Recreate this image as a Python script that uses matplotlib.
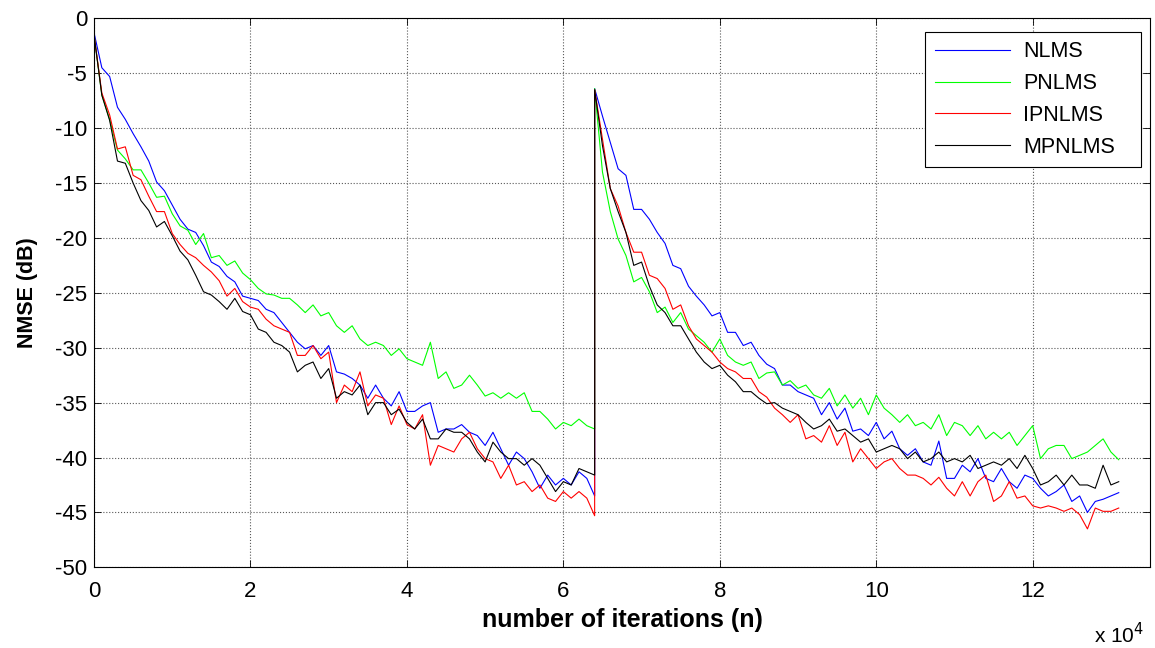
import numpy as np
import matplotlib
matplotlib.use('Agg')
import matplotlib.pyplot as plt

plt.rcParams['font.family'] = ['Liberation Sans', 'DejaVu Sans']
plt.rcParams['axes.unicode_minus'] = False

# iterations: first run up to the echo path change, then the second run
n_change = 64000
n_end = 131000

# NMSE (dB), every ~1000 iterations
nlms_1 = [-1.3, -4.5, -5.3, -8.1, -9.2, -10.5, -11.7, -13.0, -14.9, -15.7,
          -17.0, -18.3, -19.2, -19.5, -20.7, -22.2, -22.6, -23.5, -24.0, -25.3,
          -25.5, -25.7, -26.5, -26.8, -27.7, -28.6, -29.5, -30.1, -29.8, -30.7,
          -29.8, -32.2, -32.4, -32.8, -33.4, -34.6, -33.4, -34.6, -35.3, -34.0,
          -35.8, -35.8, -35.3, -35.0, -37.7, -37.4, -37.4, -37.0, -37.7, -38.0,
          -38.9, -37.7, -39.2, -40.7, -39.5, -40.1, -41.3, -42.8, -41.6, -42.5,
          -41.9, -42.5, -41.3, -41.9, -43.5]
pnlms_1 = [-1.5, -7.0, -9.2, -12.0, -12.8, -13.8, -13.8, -15.0, -16.3, -16.2,
           -17.8, -18.9, -19.3, -20.6, -19.6, -21.8, -21.6, -22.5, -22.1, -23.2,
           -23.8, -24.6, -25.1, -25.2, -25.5, -25.5, -26.1, -26.8, -26.1, -27.1,
           -26.8, -28.0, -28.6, -28.0, -29.2, -29.8, -29.5, -29.8, -30.7, -30.1,
           -31.0, -31.3, -31.6, -29.5, -32.8, -32.2, -33.7, -33.4, -32.5, -33.4,
           -34.4, -34.1, -34.6, -34.1, -34.6, -34.1, -35.8, -35.8, -36.5, -37.4,
           -36.8, -37.1, -36.5, -37.1, -37.4]
ipnlms_1 = [-1.5, -6.8, -8.8, -11.9, -11.7, -14.3, -14.7, -16.2, -17.6, -17.6,
            -19.6, -20.6, -21.4, -21.8, -22.5, -23.1, -23.9, -25.3, -24.6, -25.8,
            -26.3, -26.5, -27.4, -28.0, -28.3, -28.6, -30.7, -30.7, -29.8, -31.0,
            -30.4, -35.0, -33.4, -34.0, -32.2, -35.3, -34.3, -34.6, -37.0, -35.3,
            -37.0, -37.4, -36.1, -40.7, -38.9, -39.2, -39.5, -38.3, -37.7, -39.2,
            -40.1, -40.4, -41.9, -40.7, -42.5, -42.2, -43.1, -42.5, -43.7, -44.0,
            -43.1, -43.7, -43.1, -43.7, -45.3]
mpnlms_1 = [-1.5, -7.0, -9.3, -13.0, -13.2, -15.0, -16.6, -17.5, -19.0, -18.5,
            -19.8, -21.2, -22.0, -23.4, -24.9, -25.2, -25.8, -26.5, -25.5, -26.7,
            -27.0, -28.3, -28.6, -29.5, -29.8, -30.4, -32.2, -31.6, -31.3, -32.8,
            -31.9, -34.6, -34.0, -34.3, -33.4, -36.1, -35.0, -35.0, -36.1, -35.6,
            -36.8, -37.4, -36.5, -38.3, -38.3, -37.4, -37.7, -37.7, -38.3, -39.5,
            -40.4, -38.6, -39.5, -40.1, -40.1, -40.7, -40.1, -40.7, -41.9, -43.1,
            -42.2, -42.5, -41.0, -41.3, -41.6]

nlms_2 = [-6.4, -8.9, -11.3, -13.7, -14.3, -17.4, -17.4, -18.3, -19.5, -20.5,
          -22.5, -22.8, -24.4, -25.3, -26.1, -27.1, -26.8, -28.6, -28.6, -29.8,
          -29.5, -30.7, -31.5, -31.9, -33.4, -33.4, -34.0, -34.3, -34.6, -36.1,
          -35.0, -36.5, -35.5, -37.6, -37.4, -38.0, -36.8, -38.3, -37.6, -39.2,
          -39.8, -39.2, -40.4, -40.7, -38.5, -41.9, -41.9, -40.7, -41.3, -40.1,
          -41.9, -42.2, -41.0, -42.2, -42.8, -41.6, -41.9, -42.8, -43.5, -43.1,
          -42.5, -44.0, -43.5, -45.0, -44.0, -43.8, -43.5, -43.2]
pnlms_2 = [-6.4, -14.0, -17.6, -20.1, -21.6, -24.0, -23.6, -24.9, -26.8, -26.3,
           -27.7, -26.8, -28.3, -28.9, -29.5, -30.4, -29.2, -30.7, -31.3, -31.6,
           -31.3, -32.8, -32.3, -32.2, -33.4, -33.0, -33.7, -33.4, -34.3, -34.6,
           -33.7, -35.3, -34.3, -35.5, -34.6, -36.1, -34.3, -35.5, -36.1, -36.8,
           -36.1, -37.1, -36.8, -37.4, -36.1, -38.0, -36.8, -37.1, -38.0, -37.1,
           -38.3, -37.7, -38.3, -37.7, -38.9, -38.0, -37.1, -40.1, -39.2, -38.9,
           -38.9, -40.1, -39.8, -39.5, -38.9, -38.3, -39.5, -40.2]
ipnlms_2 = [-6.5, -11.0, -15.5, -17.1, -19.5, -21.3, -21.3, -23.4, -23.7, -24.6,
            -26.5, -26.1, -28.0, -29.2, -29.8, -30.4, -31.3, -31.9, -32.2, -32.8,
            -32.8, -34.0, -34.5, -35.5, -36.1, -36.8, -36.1, -38.3, -38.0, -38.6,
            -37.1, -38.9, -37.7, -40.4, -39.2, -40.1, -41.0, -40.4, -40.1, -41.0,
            -41.6, -41.6, -41.9, -42.5, -41.8, -42.8, -43.5, -42.2, -43.5, -42.2,
            -41.6, -44.0, -43.5, -42.2, -43.7, -43.5, -44.4, -44.6, -44.4, -44.6,
            -44.9, -44.6, -45.2, -46.5, -44.6, -44.9, -44.9, -44.6]
mpnlms_2 = [-6.5, -11.6, -15.5, -17.6, -19.5, -22.5, -22.2, -24.4, -26.1, -26.8,
            -28.0, -28.0, -29.2, -30.4, -31.3, -31.9, -31.6, -32.5, -33.1, -34.0,
            -34.0, -34.6, -35.1, -35.0, -35.5, -35.8, -36.1, -36.8, -37.4, -37.1,
            -36.5, -37.6, -37.4, -38.0, -38.6, -38.3, -39.5, -39.2, -38.9, -39.2,
            -40.1, -39.5, -40.4, -40.1, -39.5, -40.4, -40.1, -40.4, -39.8, -41.0,
            -40.7, -40.4, -40.7, -40.1, -41.0, -39.8, -41.0, -42.5, -42.2, -41.6,
            -42.5, -41.6, -42.5, -42.5, -42.8, -40.7, -42.5, -42.2]

labels = ['NLMS', 'PNLMS', 'IPNLMS', 'MPNLMS']
colors = ['#0000ff', '#00ff00', '#ff0000', '#000000']

x1 = np.linspace(0, n_change, len(nlms_1))
x2 = np.linspace(n_change, n_end, len(nlms_2))
x = np.concatenate([x1, x2])
curves = [nlms_1 + nlms_2, pnlms_1 + pnlms_2, ipnlms_1 + ipnlms_2, mpnlms_1 + mpnlms_2]

fig = plt.figure(figsize=(11.55, 6.48), dpi=100)
ax = fig.add_axes([0.0814, 0.1245, 0.9143, 0.8472])

for y, c, lab in zip(curves, colors, labels):
    ax.plot(x, y, color=c, lw=0.8, label=lab)

ax.set_xlim(0, 135000)
ax.set_ylim(-50, 0)
xt = np.arange(0, 130001, 20000)
ax.set_xticks(xt)
ax.set_xticklabels([str(int(t / 1e4)) for t in xt])
ax.set_yticks(np.arange(-50, 1, 5))
ax.grid(True, color='0.35', linestyle=':', linewidth=0.8)
ax.tick_params(direction='in', top=True, right=True, length=5, width=0.6,
               labelsize=16)
ax.tick_params(axis='x', pad=10)
ax.tick_params(axis='y', pad=5)
for s in ax.spines.values():
    s.set_linewidth(0.8)

ax.set_xlabel('number of iterations (n)', fontsize=18, fontweight='bold', labelpad=4)
ax.set_ylabel('NMSE (dB)', fontsize=15.5, fontweight='bold', labelpad=12)
fig.text(0.947, 0.007, 'x 10$^{4}$', fontsize=15)

# legend box spans the same width as in the original (extra room on the right)
leg = ax.legend(loc='upper left', bbox_to_anchor=(0.787, 0.70, 0.2045, 0.2756),
                mode='expand', borderaxespad=0, fontsize=15.5, handlelength=3.5,
                handletextpad=0.6, fancybox=False, framealpha=1, edgecolor='black',
                borderpad=0.45, labelspacing=0.5)
leg.get_frame().set_linewidth(0.8)

fig.savefig('out.png', dpi=100)
